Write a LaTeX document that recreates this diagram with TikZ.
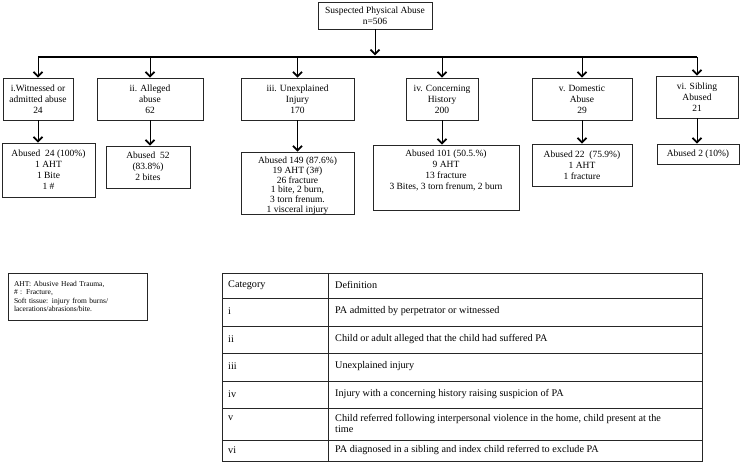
\documentclass[tikz,border=0pt]{standalone}
\usepackage{fontspec}
\setmainfont{Liberation Serif}
\usetikzlibrary{arrows.meta,calc}
\begin{document}
\begin{tikzpicture}[x=1pt,y=-1pt,
  box/.style={draw=black!85, line width=0.8pt, inner sep=0pt, align=center,
    font=\fontsize{9.5}{11}\selectfont},
  txt/.style={inner sep=0pt, align=center, font=\fontsize{9.5}{11}\selectfont},
  arr/.style={-{Straight Barb[length=4.5pt,width=9pt,line width=1.8pt]}, line width=0.8pt},
  barline/.style={line width=2pt},
  tcell/.style={inner sep=0pt, anchor=west, align=left, font=\fontsize{10.2}{11}\selectfont},
  tline/.style={line width=0.9pt, draw=black!85},
  legend/.style={draw=black!85, line width=0.8pt, inner sep=0pt, align=left,
    font=\fontsize{7.5}{8.3}\selectfont}]
\useasboundingbox (0,0) rectangle (740,470);

% top
\node[box, minimum width=114pt, minimum height=27pt] (top) at (375,15.5) {Suspected Physical Abuse\\n=506};

% categories
\node[box, minimum width=70pt,  minimum height=42pt] (c1) at (38,99)    {i.Witnessed or\\admitted abuse\\24};
\node[box, minimum width=106pt, minimum height=42pt] (c2) at (150,99)   {ii. Alleged\\abuse\\62};
\node[box, minimum width=113pt, minimum height=42pt] (c3) at (297.5,99) {iii. Unexplained\\Injury\\170};
\node[box, minimum width=72pt,  minimum height=42pt] (c4) at (442,99)   {iv. Concerning\\History\\200};
\node[box, minimum width=100pt, minimum height=42pt] (c5) at (582,99)   {v. Domestic\\Abuse\\29};
\node[box, minimum width=82pt,  minimum height=42pt] (c6) at (697,97)   {vi. Sibling\\Abused\\21};

% bar
\coordinate (barY) at (0,57);
\draw[barline] (c1.north |- barY) -- (c6.north |- barY);
\draw[arr] (top.south) -- ($(top.south |- barY)+(0,-1.5)$);
\foreach \c in {c1,c2,c3,c4,c5,c6}{
  \draw[arr] (\c.north |- barY) -- (\c.north);
}

% results
\node[box, minimum width=93pt,  minimum height=54pt] (d1) at (48.5,170) {};
\node[txt, anchor=north] (d1t) at ($(d1.north)+(0,7)$) {Abused~ 24 (100\%)\\1 AHT\\1 Bite\\1 \#};
\node[box, minimum width=84pt,  minimum height=42pt] (d2) at (148,167) {};
\node[txt, anchor=north] (d2t) at ($(d2.north)+(0,6.5)$) {Abused~ 52\\(83.8\%)\\2 bites};
\node[box, minimum width=113pt, minimum height=62pt] (d3) at (297.5,183) {};
\node[txt, anchor=north, font=\fontsize{9.5}{9.7}\selectfont] (d3t) at ($(d3.north)+(0,5.5)$) {Abused 149 (87.6\%)\\19 AHT (3\#)\\26 fracture\\1 bite, 2 burn,\\3 torn frenum.\\1 visceral injury};
\node[box, minimum width=146pt, minimum height=65pt] (d4) at (446,177.5) {};
\node[txt, anchor=north] (d4t) at ($(d4.north)+(0,5.5)$) {Abused 101 (50.5.\%)\\9 AHT\\13 fracture\\3 Bites, 3 torn frenum, 2 burn};
\node[box, minimum width=100pt, minimum height=42pt] (d5) at (582,165) {Abused 22~ (75.9\%)\\1 AHT\\1 fracture};
\node[box, minimum width=82pt,  minimum height=20pt] (d6) at (698,154) {Abused 2 (10\%)};

\foreach \i in {1,...,6}{
  \draw[arr] (c\i.south) -- (c\i.south |- d\i.north);
}

% legend
\node[legend, minimum width=139pt, minimum height=47pt, text width=127pt] (leg) at (77.5,296.5)
  {AHT: Abusive Head Trauma,\\\# : Fracture,\\Soft tissue: injury from burns/\\lacerations/abrasions/bite.};

% table
\draw[tline] (222,273) rectangle (702,461);
\draw[tline] (328,273) -- (328,461);
\foreach \y in {298,326,353,381,408,440}{
  \draw[tline] (222,\y) -- (702,\y);
}
\node[tcell] (h1) at (228,285) {Category};
\node[tcell] (h2) at (335,285) {Definition};
\node[tcell] (r1a) at (228,311) {i};
\node[tcell] (r1b) at (335,311) {PA admitted by perpetrator or witnessed};
\node[tcell] (r2a) at (228,339) {ii};
\node[tcell] (r2b) at (335,339) {Child or adult alleged that the child had suffered PA};
\node[tcell] (r3a) at (228,366) {iii};
\node[tcell] (r3b) at (335,366) {Unexplained injury};
\node[tcell] (r4a) at (228,394) {iv};
\node[tcell] (r4b) at (335,394) {Injury with a concerning history raising suspicion of PA};
\node[tcell] (r5a) at (228,418) {v};
\node[tcell] (r5b) at (335,423.5) {Child referred following interpersonal violence in the home, child present at the\\time};
\node[tcell] (r6a) at (228,450) {vi};
\node[tcell] (r6b) at (335,450) {PA diagnosed in a sibling and index child referred to exclude PA};
\end{tikzpicture}
\end{document}
